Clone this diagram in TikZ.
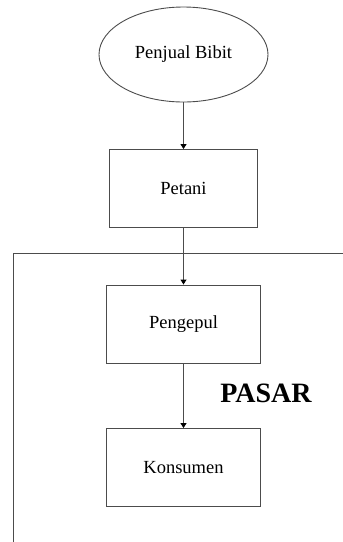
\documentclass[tikz,border=0pt]{standalone}
\usepackage{fontspec}
\setmainfont{Liberation Serif}
\usetikzlibrary{shapes.geometric, arrows.meta}
\begin{document}
\begin{tikzpicture}[x=1pt, y=-1pt, >={Triangle[length=5pt, width=6pt, color=black]},
  box/.style = {draw=black!70, line width=0.9pt, minimum width=#1, minimum height=78pt, inner sep=0pt, font=\fontsize{18.5}{22}\selectfont},
  box/.default = 154pt]
\useasboundingbox (0,0) rectangle (343,542);
\node[ellipse, draw=black!70, line width=0.9pt, minimum width=169pt, minimum height=95pt, inner sep=0pt, font=\fontsize{18.5}{22}\selectfont] (bibit) at (183.5, 54.5) {Penjual Bibit};
\node[box=148pt] (petani) at (183.5, 188.5) {Petani};
\node[box] (pengepul) at (183.5, 324) {Pengepul};
\node[box] (konsumen) at (183.5, 467.5) {Konsumen};
\node[font=\fontsize{28}{32}\selectfont\bfseries] (pasar) at (266, 393) {PASAR};
\coordinate (pojok) at (13, 253);
\coordinate (kanan) at (343, 253);
\coordinate (bawah) at (13, 542);
\draw[black!70, line width=0.9pt] (bawah) -- (pojok) -- (kanan);
\draw[->, black!70, line width=0.9pt] (bibit) -- (petani);
\draw[->, black!70, line width=0.9pt] (petani) -- (pengepul);
\draw[->, black!70, line width=0.9pt] (pengepul) -- (konsumen);
\end{tikzpicture}
\end{document}
